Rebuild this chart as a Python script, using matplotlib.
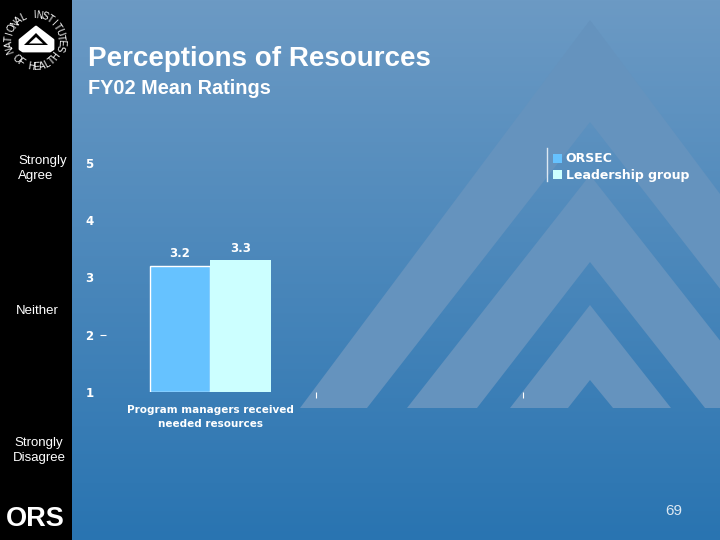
import numpy as np
import matplotlib
matplotlib.use("Agg")
import matplotlib.pyplot as plt
from matplotlib.lines import Line2D
from matplotlib.patches import Polygon

plt.rcParams['font.family'] = ['Liberation Sans', 'DejaVu Sans']

# chart data
categories = ["Program managers received\nneeded resources", "", ""]
orsec = [3.2]
leadership = [3.3]
series_names = ["ORSEC", "Leadership group"]
y_ticks = [1, 2, 3, 4, 5]

fig = plt.figure(figsize=(7.2, 5.4), dpi=100)

# ----------------------- slide background, in pixels -----------------------
bg = fig.add_axes([0, 0, 1, 1], zorder=0)
bg.set_xlim(0, 720)
bg.set_ylim(540, 0)
bg.axis("off")

top_col = np.array([0x6c, 0x9a, 0xc4]) / 255
bot_col = np.array([0x29, 0x74, 0xb1]) / 255
t = np.linspace(0, 1, 540).reshape(-1, 1, 1)
grad = top_col.reshape(1, 1, 3) * (1 - t) + bot_col.reshape(1, 1, 3) * t
bg.imshow(grad, extent=[0, 720, 540, 0], aspect="auto", zorder=0)

tri_col = "#6593be"
base = 408
# chevrons from the template, outer edge then inner edge
chevrons = [
    [(300, base), (590, 20), (880, base), (813, base), (590, 122), (367, base)],
    [(407, base), (590, 175), (773, base), (705, base), (590, 262), (477, base)],
    [(510, base), (590, 305), (671, base), (613, base), (590, 380), (568, base)],
]
for pts in chevrons:
    bg.add_patch(Polygon(pts, closed=True, fc=tri_col, ec="none", zorder=1))

# black side strip
bg.add_patch(Polygon([(0, 0), (72, 0), (72, 540), (0, 540)], fc="black", ec="none", zorder=2))

# left hand scale words
bg.text(18, 161, "Strongly", color="white", fontsize=9.5, va="center", zorder=3)
bg.text(18, 176, "Agree", color="white", fontsize=9.5, va="center", zorder=3)
bg.text(16, 311, "Neither", color="white", fontsize=9.5, va="center", zorder=3)
bg.text(14, 443, "Strongly", color="white", fontsize=9.5, va="center", zorder=3)
bg.text(13, 458, "Disagree", color="white", fontsize=9.5, va="center", zorder=3)

# ORS mark
bg.text(35, 519, "ORS", color="white", fontsize=19.5, fontweight="bold", ha="center", va="center", zorder=3)

# NIH round logo
cx, cy, rad = 35, 41, 26
def arc_text(word, a0, a1, bottom=False):
    for ch, a in zip(word, np.linspace(a0, a1, len(word))):
        x = cx + rad * np.cos(np.radians(a))
        y = cy - rad * np.sin(np.radians(a))
        rot = a + 90 if bottom else a - 90
        bg.text(x, y, ch, color="white", fontsize=7, rotation=rot, rotation_mode="anchor",
                ha="center", va="center", zorder=3)

arc_text("NATIONAL INSTITUTES", 199, -15)
arc_text("OF HEALTH", 223, 323, bottom=True)

house = [(36, 27), (20, 40), (20, 49), (23, 51), (50, 51), (53, 49), (53, 40)]
bg.add_patch(Polygon(house, fc="white", ec="white", lw=2, joinstyle="round", zorder=3))
bg.add_patch(Polygon([(36, 33), (24, 45), (48, 45)], fc="black", ec="none", zorder=4))
bg.add_patch(Polygon([(36, 37), (29, 43.5), (43, 43.5)], fc="white", ec="none", zorder=5))

# titles and page number
bg.text(88, 59, "Perceptions of Resources", color="white", fontsize=20, fontweight="bold",
        va="center", zorder=3)
bg.text(88, 88, "FY02 Mean Ratings", color="white", fontsize=14.3, fontweight="bold",
        va="center", zorder=3)
bg.text(665, 511, "69", color="#dce8f2", fontsize=11, va="center", zorder=3)

# ----------------------- the bar chart -----------------------
ax = fig.add_axes([109 / 720, (540 - 392) / 540, 621 / 720, 229 / 540], zorder=1)
ax.patch.set_alpha(0)
ax.set_xlim(0, len(categories))
ax.set_ylim(y_ticks[0], y_ticks[-1])

bar_w = 0.292
center = 0.4885
bars1 = ax.bar([center - bar_w / 2], [v - 1 for v in orsec], bar_w, bottom=1, color="#66c2ff",
               edgecolor="white", linewidth=1, label=series_names[0])
bars2 = ax.bar([center + bar_w / 2], [v - 1 for v in leadership], bar_w, bottom=1, color="#ccffff",
               edgecolor="none", label=series_names[1])

ax.annotate("%.1f" % orsec[0], (center - bar_w / 2, orsec[0]), xytext=(0, 4), textcoords="offset points",
            color="white", fontsize=8.5, fontweight="bold", family="DejaVu Sans", ha="center", va="bottom")
ax.annotate("%.1f" % leadership[0], (center + bar_w / 2, leadership[0]), xytext=(0, 4), textcoords="offset points",
            color="white", fontsize=8.5, fontweight="bold", family="DejaVu Sans", ha="center", va="bottom")

for s in ax.spines.values():
    s.set_visible(False)

ax.set_yticks(y_ticks)
ax.set_yticklabels([str(v) for v in y_ticks], color="white", fontsize=8.5, fontweight="bold", family="DejaVu Sans")
ax.tick_params(axis="y", length=0, pad=11)

# short dash next to the 2 only
ax.plot([-0.027], [2], marker="_", ms=5, color="white", mew=0.8, clip_on=False)

ax.set_xticks([1, 2])
ax.set_xticklabels(["", ""])
ax.tick_params(axis="x", length=4, width=0.8, color="white", pad=2)

ax.text(center, -0.058, categories[0], color="white", fontsize=7.5, fontweight="bold", family="DejaVu Sans",
        ha="center", va="top", linespacing=1.5, transform=ax.get_xaxis_transform())

leg = fig.legend(handles=[bars1, bars2], loc="upper left", bbox_to_anchor=(550 / 720, 1 - 150 / 540),
                 frameon=False, labelcolor="white", handlelength=0.75, handleheight=0.75,
                 handletextpad=0.3, labelspacing=0.25, borderpad=0.2, borderaxespad=0,
                 prop={"family": "DejaVu Sans", "weight": "bold", "size": 9})
leg.legend_handles[0].set_edgecolor("none")
fig.add_artist(Line2D([547 / 720, 547 / 720], [1 - 148 / 540, 1 - 181 / 540], color="#dce8f2", lw=1))

fig.savefig("out.png", dpi=100)
